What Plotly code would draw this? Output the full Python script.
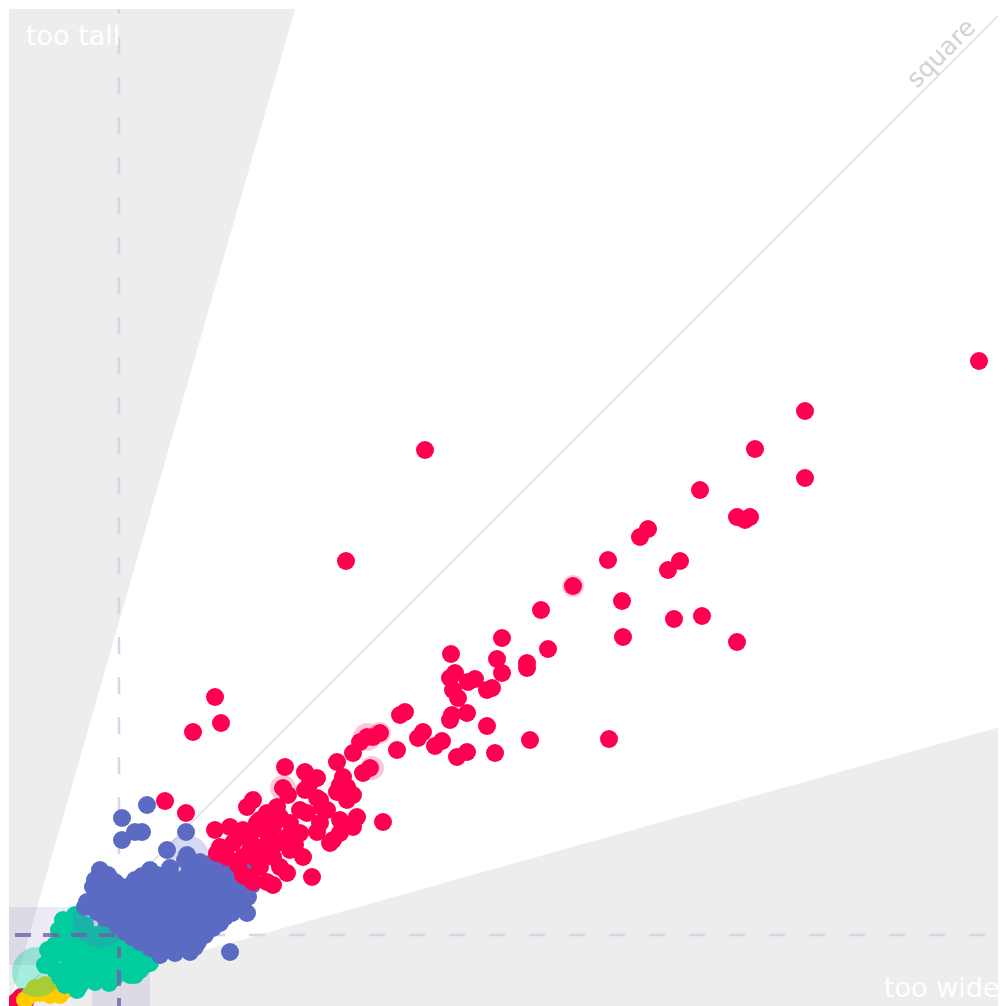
import plotly.graph_objects as go

# ширина / высота изображений (в пикселях графика от начала координат)
big_w = [970, 796, 746, 796, 691, 728, 741, 736, 631, 639, 599, 671, 659, 564, 613, 532,
         665, 693, 614, 728, 539, 416, 337, 493, 442, 488, 518, 518, 493, 446, 441, 466,
         459, 483, 478, 444, 449, 396, 391, 443, 441, 458, 478, 414, 409, 433, 426, 521,
         388, 458, 448, 486, 600, 371, 206, 212, 184, 358, 351, 364, 344, 328, 276, 296,
         308, 301, 361, 354, 334, 331, 328, 274, 279, 244, 344, 338, 308, 313, 291, 298,
         268, 258, 251, 271, 281, 331, 348, 344, 311, 308, 374, 206, 221, 234, 244, 258,
         278, 291, 331, 324, 211, 224, 241, 254, 268, 321, 281, 218, 234, 248, 264, 294,
         251, 271, 278, 234, 244, 303, 264, 258, 238, 156, 177, 238, 231, 208, 338, 311,
         286, 264, 248, 318, 296, 229, 241, 256]
big_h = [644, 594, 556, 527, 515, 488, 488, 485, 468, 476, 445, 444, 435, 419, 404, 395,
         386, 389, 368, 363, 356, 555, 444, 367, 351, 346, 342, 337, 332, 332, 327, 326,
         323, 317, 315, 315, 307, 293, 290, 290, 285, 292, 279, 273, 267, 264, 259, 265,
         255, 253, 248, 252, 266, 272, 308, 282, 273, 268, 263, 268, 252, 243, 238, 233,
         227, 222, 237, 232, 228, 220, 213, 217, 210, 205, 210, 205, 207, 198, 195, 192,
         198, 192, 185, 188, 182, 185, 188, 178, 182, 173, 183, 175, 178, 175, 175, 172,
         168, 172, 172, 165, 158, 162, 165, 158, 162, 162, 155, 148, 148, 145, 148, 148,
         138, 138, 132, 130, 123, 128, 120, 123, 128, 204, 192, 198, 168, 152, 218, 205,
         160, 178, 182, 195, 215, 140, 155, 152]
big_halo_w = [564, 358, 274, 363, 371]
big_halo_h = [419, 268, 217, 237, 272]
big_halo_s = [22, 28, 26, 24, 22]

mid_w = [138, 113, 126, 133, 113, 177, 158, 178, 91, 99, 86, 84, 119, 151, 78, 76, 238, 221,
         176, 191, 206, 219,
         141, 161, 181, 196, 211, 226, 236,
         133, 148, 163, 178, 193, 208, 223, 238,
         106, 126, 141, 156, 171, 186, 201, 216, 231, 243,
         98, 113, 128, 143, 158, 173, 188, 203, 218, 233,
         91, 106, 121, 136, 151, 166, 181, 196, 211, 226, 239,
         93, 108, 123, 138, 153, 168, 183, 198, 213, 228,
         86, 101, 116, 131, 146, 161, 176, 191, 206, 221, 233,
         88, 103, 118, 133, 148, 163, 178, 193, 208, 223,
         96, 111, 126, 141, 156, 171, 186, 201, 216,
         108, 123, 138, 153, 168, 183, 198, 211,
         116, 131, 146, 161, 176, 191, 204,
         123, 138, 153, 168, 183, 196,
         131, 146, 161, 176, 189,
         141, 156, 171, 186,
         151, 166, 181]
mid_h = [200, 187, 173, 173, 165, 173, 155, 150, 135, 130, 125, 118, 118, 128, 103, 98, 92, 53,
         145, 143, 145, 140,
         135, 137, 135, 133, 135, 133, 137,
         129, 130, 128, 129, 130, 128, 129, 128,
         123, 125, 123, 125, 123, 122, 125, 123, 125, 120,
         117, 118, 117, 118, 116, 117, 118, 117, 116, 117,
         112, 114, 112, 113, 110, 112, 110, 113, 110, 112, 108,
         106, 105, 106, 107, 105, 106, 105, 106, 107, 105,
         100, 98, 100, 98, 100, 97, 100, 98, 100, 97, 102,
         93, 92, 94, 93, 92, 93, 94, 92, 93, 92,
         87, 85, 87, 85, 87, 85, 87, 85, 88,
         80, 81, 80, 79, 80, 81, 80, 82,
         73, 75, 72, 75, 73, 75, 77,
         68, 67, 66, 67, 68, 70,
         63, 60, 62, 60, 63,
         57, 56, 57, 58,
         50, 52, 53]
mid_halo_w = [178, 91, 106]
mid_halo_h = [148, 85, 115]
mid_halo_s = [44, 55, 30]

small_w = [54, 66, 76, 86, 101, 116, 131, 141, 46, 61, 76, 91, 106, 121, 136, 41, 56, 71,
           86, 101, 116, 131, 46, 61, 76, 91, 106, 121, 56, 71, 86, 68, 36, 39, 96, 111,
           50, 60, 70, 80, 51, 66, 81, 96, 111, 126, 61, 81, 96, 111, 126, 141, 100, 126, 66, 51]
small_h = [85, 90, 80, 70, 65, 60, 53, 47, 60, 65, 60, 55, 50, 45, 40, 47, 50, 45,
           43, 38, 35, 35, 35, 33, 30, 27, 28, 30, 20, 20, 23, 15, 40, 55, 75, 70,
           75, 78, 72, 68, 54, 58, 52, 48, 57, 50, 42, 38, 33, 43, 40, 42, 22, 30, 25, 28]
small_halo_w = [28]
small_halo_h = [33]
small_halo_s = [50]

tiny_w = [21, 31, 41, 51, 56, 36, 26, 46, 16]
tiny_h = [10, 12, 10, 10, 15, 20, 17, 15, 5]

micro_w = [8, 12, 16, 6]
micro_h = [4, 8, 3, 1]

median_w = 110
median_h = 70
tall_edge = [286, 996]
wide_edge = [1005, 282]

RED = '#ff0050'
BLUE = '#5b6bc4'
TEAL = '#00cc9e'
YELLOW = '#ffcc00'


def dots(xs, ys, color, size=18, opacity=1.0):
    return go.Scatter(x=xs, y=ys, mode='markers', hoverinfo='skip',
                      marker=dict(color=color, size=size, opacity=opacity,
                                  line=dict(width=0)))


fig = go.Figure()
fig.add_trace(dots(micro_w, micro_h, RED))
fig.add_trace(dots(tiny_w, tiny_h, YELLOW))
fig.add_trace(dots(small_halo_w, small_halo_h, TEAL, small_halo_s, 0.35))
fig.add_trace(dots(small_w, small_h, TEAL))
fig.add_trace(dots(mid_halo_w, mid_halo_h, BLUE, mid_halo_s, 0.25))
fig.add_trace(dots(mid_w, mid_h, BLUE))
fig.add_trace(dots(big_halo_w, big_halo_h, RED, big_halo_s, 0.22))
fig.add_trace(dots(big_w, big_h, RED))

shapes = [
    # слишком высокие / слишком широкие
    dict(type='path', path=f'M 0 0 L {tall_edge[0]} {tall_edge[1]} L -5 {tall_edge[1]} L -5 -20 Z',
         fillcolor='#ededed', line=dict(width=0), layer='below'),
    dict(type='path', path=f'M 0 0 L {wide_edge[0]} {wide_edge[1]} L {wide_edge[0]} -20 L 0 -20 Z',
         fillcolor='#ededed', line=dict(width=0), layer='below'),
    # квадрат
    dict(type='line', x0=0, y0=0, x1=1000, y1=1000,
         line=dict(color='#e2e2e2', width=1.8), layer='below'),
    # полосы вокруг медиан
    dict(type='rect', x0=-5, x1=141, y0=40, y1=98,
         fillcolor='rgba(110,90,170,0.13)', line=dict(width=0), layer='below'),
    dict(type='rect', x0=83, x1=141, y0=-20, y1=40,
         fillcolor='rgba(110,90,170,0.13)', line=dict(width=0), layer='below'),
    # медианы
    dict(type='line', x0=median_w, x1=median_w, y0=-9, y1=996,
         line=dict(color='#d8d5e8', width=2.5, dash='17px,23px'), layer='below'),
    dict(type='line', x0=0, x1=1005, y0=median_h, y1=median_h,
         line=dict(color='#d8d5e8', width=2.5, dash='16px,24px'), layer='below'),
    dict(type='line', x0=6, x1=median_w, y0=median_h, y1=median_h,
         line=dict(color='rgba(115,95,170,0.8)', width=4, dash='16px,12px'), layer='above'),
    dict(type='line', x0=median_w, x1=median_w, y0=-9, y1=median_h - 12,
         line=dict(color='rgba(115,95,170,0.8)', width=4, dash='16px,12px'), layer='above'),
]

fig.update_layout(
    width=1006, height=1006,
    margin=dict(l=1, r=0, t=1, b=0),
    paper_bgcolor='white', plot_bgcolor='white',
    showlegend=False,
    shapes=shapes,
    font=dict(family='DejaVu Sans'),
    xaxis=dict(range=[0, 1005], visible=False, fixedrange=True),
    yaxis=dict(range=[-9, 996], visible=False, fixedrange=True),
    annotations=[
        dict(x=15, y=970, xref='x', yref='y', text='too tall', showarrow=False,
             xanchor='left', yanchor='middle', font=dict(size=27, color='white')),
        dict(x=993, y=18, xref='x', yref='y', text='too wide', showarrow=False,
             xanchor='right', yanchor='middle', font=dict(size=27, color='white')),
        dict(x=931, y=952, xref='x', yref='y', text='square', showarrow=False,
             textangle=-45, font=dict(size=25, color='#d2d2d2')),
    ],
)

fig.write_html('out.html', config=dict(displayModeBar=False))
